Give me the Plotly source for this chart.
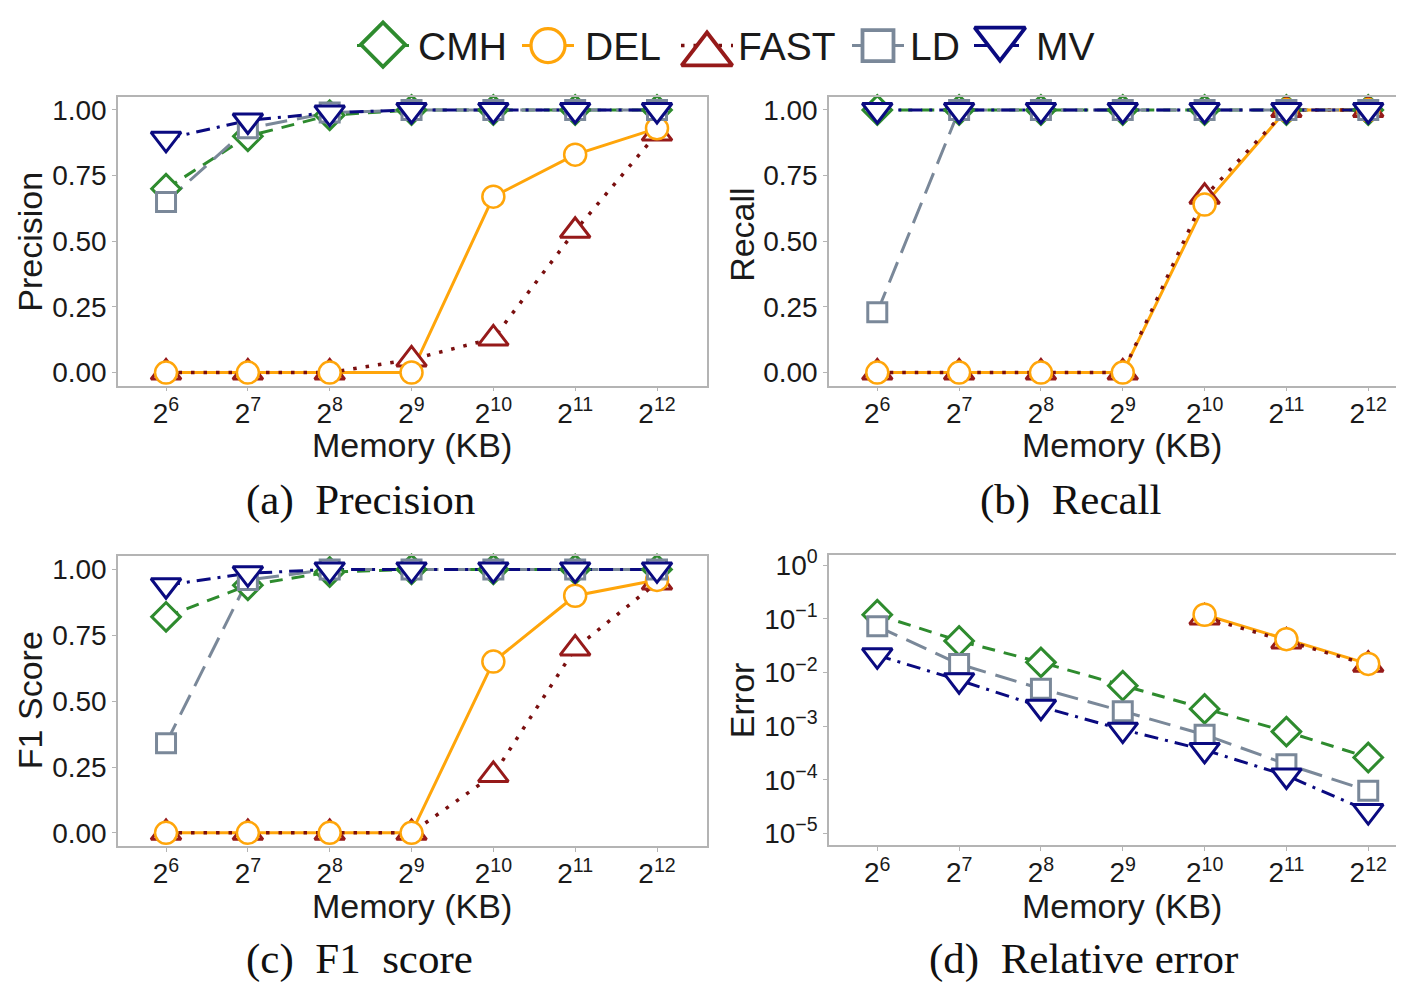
import math
import plotly.graph_objects as go

W, H = 1404, 984
# the html page has an 8px body margin; positions below are given in
# reference-picture pixels and converted to figure coordinates
OFF = 8

# ---------------- data ----------------
memory_kb = [64, 128, 256, 512, 1024, 2048, 4096]
memory_ticktext = ["2<sup>6</sup>", "2<sup>7</sup>", "2<sup>8</sup>", "2<sup>9</sup>",
                   "2<sup>10</sup>", "2<sup>11</sup>", "2<sup>12</sup>"]
series_names = ["CMH", "DEL", "FAST", "LD", "MV"]

precision_cmh = [0.70, 0.90, 0.98, 1.00, 1.00, 1.00, 1.00]
precision_del = [0.00, 0.00, 0.00, 0.00, 0.67, 0.83, 0.93]
precision_fast = [0.00, 0.00, 0.00, 0.05, 0.13, 0.54, 0.91]
precision_ld = [0.65, 0.93, 0.99, 1.00, 1.00, 1.00, 1.00]
precision_mv = [0.89, 0.96, 0.99, 1.00, 1.00, 1.00, 1.00]

recall_cmh = [1.00, 1.00, 1.00, 1.00, 1.00, 1.00, 1.00]
recall_del = [0.00, 0.00, 0.00, 0.00, 0.64, 1.00, 1.00]
recall_fast = [0.00, 0.00, 0.00, 0.00, 0.67, 1.00, 1.00]
recall_ld = [0.23, 1.00, 1.00, 1.00, 1.00, 1.00, 1.00]
recall_mv = [1.00, 1.00, 1.00, 1.00, 1.00, 1.00, 1.00]

f1_cmh = [0.82, 0.94, 0.99, 1.00, 1.00, 1.00, 1.00]
f1_del = [0.00, 0.00, 0.00, 0.00, 0.65, 0.90, 0.96]
f1_fast = [0.00, 0.00, 0.00, 0.00, 0.22, 0.70, 0.95]
f1_ld = [0.34, 0.96, 1.00, 1.00, 1.00, 1.00, 1.00]
f1_mv = [0.94, 0.985, 1.00, 1.00, 1.00, 1.00, 1.00]

error_cmh = [0.12, 0.039, 0.0155, 0.0057, 0.0021, 0.00079, 0.00026]
error_del = [None, None, None, None, 0.12, 0.042, 0.0145]
error_fast = [None, None, None, None, 0.107, 0.038, 0.014]
error_ld = [0.073, 0.0144, 0.005, 0.0019, 0.00069, 0.000195, 0.000062]
error_mv = [0.021, 0.0072, 0.0023, 0.00086, 0.00036, 0.00012, 0.000026]

error_tickvals = [1, 0.1, 0.01, 0.001, 0.0001, 0.00001]
error_ticktext = ["10<sup>0</sup>", "10<sup>\u22121</sup>", "10<sup>\u22122</sup>",
                  "10<sup>\u22123</sup>", "10<sup>\u22124</sup>", "10<sup>\u22125</sup>"]
unit_tickvals = [0, 0.25, 0.5, 0.75, 1.0]

panel_ylabels = ["Precision", "Recall", "F1 Score", "Error"]
panel_captions = ["(a)  Precision", "(b)  Recall", "(c)  F1  score", "(d)  Relative error"]
xlabel = "Memory (KB)"

# ---------------- styles ----------------
styles = {
    "CMH": dict(color="#2E8B2E", symbol="diamond", size=22, mlw=3, dash="13px,9px", lw=3),
    "DEL": dict(color="#FFA50A", symbol="circle", size=22, mlw=2.5, dash="solid", lw=3),
    "FAST": dict(color="#7A0F0F", symbol="triangle-up", size=26, mlw=3, dash="3.5px,9px", lw=3.5),
    "LD": dict(color="#7A8899", symbol="square", size=19, mlw=3, dash="22px,10px", lw=3),
    "MV": dict(color="#0A0A80", symbol="triangle-down", size=26, mlw=3, dash="14px,7px,3px,7px", lw=3),
}
line_order = ["CMH", "DEL", "FAST", "LD", "MV"]
marker_order = ["CMH", "FAST", "DEL", "LD", "MV"]
marker_edge = {"CMH": "#2E8B2E", "DEL": "#FFA50A", "FAST": "#961A1A", "LD": "#7A8899", "MV": "#0A0A80"}

FONT = "Liberation Sans, Arial, sans-serif"
SERIF = "Liberation Serif, Times New Roman, serif"
AXIS_GREY = "#B4B4B4"


def px_x(x):
    return (x - OFF) / W


def px_y(y):
    return 1 - (y - OFF) / H


panels = [
    dict(data={"CMH": precision_cmh, "DEL": precision_del, "FAST": precision_fast,
               "LD": precision_ld, "MV": precision_mv},
         xd=(118, 707), yd=(88, 381), xr=(5.413, 12.611), log=False),
    dict(data={"CMH": recall_cmh, "DEL": recall_del, "FAST": recall_fast,
               "LD": recall_ld, "MV": recall_mv},
         xd=(829, 1404), yd=(88, 381), xr=(5.41, 12.437), log=False),
    dict(data={"CMH": f1_cmh, "DEL": f1_del, "FAST": f1_fast,
               "LD": f1_ld, "MV": f1_mv},
         xd=(118, 707), yd=(554, 848), xr=(5.413, 12.611), log=False),
    dict(data={"CMH": error_cmh, "DEL": error_del, "FAST": error_fast,
               "LD": error_ld, "MV": error_mv},
         xd=(829, 1404), yd=(553, 847), xr=(5.41, 12.437), log=True),
]

fig = go.Figure()
layout = dict(width=W, height=H, margin=dict(l=0, r=0, t=0, b=0),
              paper_bgcolor="white", plot_bgcolor="white", showlegend=False)

LOG2 = math.log10(2)
for i, p in enumerate(panels):
    n = i + 1
    xa = "xaxis" if n == 1 else f"xaxis{n}"
    ya = "yaxis" if n == 1 else f"yaxis{n}"
    xref = "x" if n == 1 else f"x{n}"
    yref = "y" if n == 1 else f"y{n}"
    # lines first (all series), then the markers on top
    for name in line_order:
        s = styles[name]
        fig.add_trace(go.Scatter(
            x=memory_kb, y=p["data"][name], xaxis=xref, yaxis=yref,
            mode="lines", name=name, cliponaxis=False,
            line=dict(color=s["color"], width=s["lw"], dash=s["dash"]),
        ))
    for name in marker_order:
        s = styles[name]
        fig.add_trace(go.Scatter(
            x=memory_kb, y=p["data"][name], xaxis=xref, yaxis=yref,
            mode="markers", name=name, cliponaxis=False,
            marker=dict(symbol=s["symbol"], size=s["size"], color="white",
                        line=dict(color=marker_edge[name], width=s["mlw"])),
        ))
    right_open = p["xd"][1] >= W
    layout[xa] = dict(
        domain=[px_x(p["xd"][0]), px_x(p["xd"][1])], anchor=yref,
        type="log", range=[p["xr"][0] * LOG2, p["xr"][1] * LOG2],
        tickvals=memory_kb, ticktext=memory_ticktext,
        showline=True, linecolor=AXIS_GREY, linewidth=1.5, mirror=True,
        ticks="outside", ticklen=4, tickcolor=AXIS_GREY, tickwidth=1.2,
        showgrid=False, zeroline=False, ticklabelstandoff=-2,
        tickfont=dict(family=FONT, size=28, color="#1a1a1a"),
    )
    ydict = dict(
        domain=[px_y(p["yd"][1]), px_y(p["yd"][0])], anchor=xref,
        showline=True, linecolor=AXIS_GREY, linewidth=1.5, mirror=not right_open,
        ticks="outside", ticklen=4, tickcolor=AXIS_GREY, tickwidth=1.2,
        showgrid=False, zeroline=False,
        tickfont=dict(family=FONT, size=28, color="#1a1a1a"),
    )
    if p["log"]:
        ydict.update(type="log", range=[-5.22, 0.19], tickvals=error_tickvals,
                     ticktext=error_ticktext)
    else:
        ydict.update(range=[-0.05, 1.05], tickvals=unit_tickvals, tickformat=".2f")
    layout[ya] = ydict

# ---------------- text (axis titles, captions) ----------------
annotations = []
ylabel_pos = [(30, 235), (742, 228), (30, 700), (742, 700)]
xlabel_pos = [(412, 441), (1122, 441), (412, 909), (1122, 909)]
caption_pos = [(361, 497), (1071, 497), (359, 963), (1083, 963)]
for i in range(4):
    annotations.append(dict(text=panel_ylabels[i], x=px_x(ylabel_pos[i][0]), y=px_y(ylabel_pos[i][1]),
                            xref="paper", yref="paper", showarrow=False, textangle=-90,
                            xanchor="center", yanchor="middle",
                            font=dict(family=FONT, size=34, color="#1a1a1a")))
    annotations.append(dict(text=xlabel, x=px_x(xlabel_pos[i][0]), y=px_y(xlabel_pos[i][1]),
                            xref="paper", yref="paper", showarrow=False,
                            xanchor="center", yanchor="middle",
                            font=dict(family=FONT, size=34, color="#1a1a1a")))
    annotations.append(dict(text=panel_captions[i], x=px_x(caption_pos[i][0]), y=px_y(caption_pos[i][1]),
                            xref="paper", yref="paper", showarrow=False,
                            xanchor="center", yanchor="middle",
                            font=dict(family=SERIF, size=43, color="#111111")))

# ---------------- legend (drawn on a hidden pixel axis) ----------------
legend_symbol_x = {"CMH": 383, "DEL": 548, "FAST": 707, "LD": 878, "MV": 1000}
legend_symbol_y = {"CMH": 35, "DEL": 36, "FAST": 45, "LD": 36, "MV": 29}
legend_symbol_size = {"CMH": 34, "DEL": 34, "FAST": 44, "LD": 31, "MV": 44}
legend_text_x = {"CMH": 416, "DEL": 583, "FAST": 736, "LD": 908, "MV": 1034}
for name in series_names:
    s = styles[name]
    cx = legend_symbol_x[name]
    fig.add_trace(go.Scatter(
        x=[cx - 26, cx + 26], y=[36, 36], xaxis="x5", yaxis="y5", mode="lines",
        line=dict(color=s["color"], width=s["lw"], dash=s["dash"]), hoverinfo="skip"))
    fig.add_trace(go.Scatter(
        x=[cx], y=[legend_symbol_y[name]], xaxis="x5", yaxis="y5", mode="markers",
        cliponaxis=False,
        marker=dict(symbol=s["symbol"], size=legend_symbol_size[name], color="white",
                    line=dict(color=marker_edge[name], width=s["mlw"] + 0.8)), hoverinfo="skip"))
    annotations.append(dict(text=name, x=legend_text_x[name], y=37, xref="x5", yref="y5",
                            showarrow=False, xanchor="left", yanchor="middle",
                            font=dict(family=FONT, size=39, color="#1a1a1a")))

layout["xaxis5"] = dict(domain=[0, 1], range=[OFF, W + OFF], visible=False, anchor="y5", fixedrange=True)
layout["yaxis5"] = dict(domain=[1 - 80 / H, 1], range=[80 + OFF, OFF], visible=False, anchor="x5",
                        fixedrange=True)
layout["annotations"] = annotations

fig.update_layout(**layout)
fig.write_html("out.html")
